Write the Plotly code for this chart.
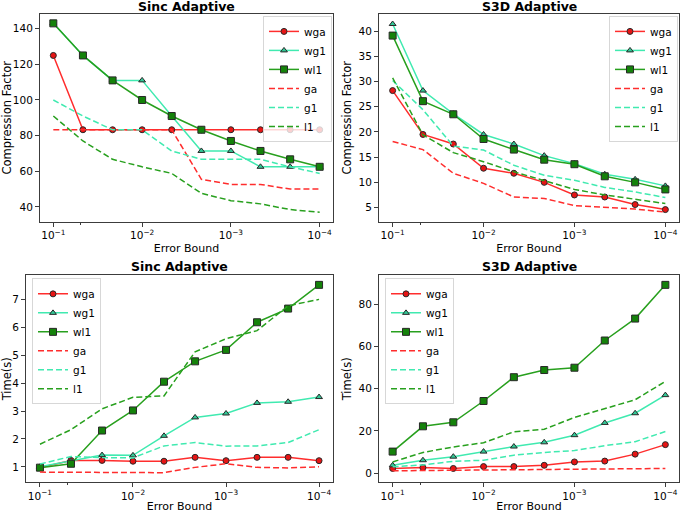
import plotly.graph_objects as go

# error bounds (x), 10 log-spaced points from 1e-1 to 1e-4
error_bound = [1e-1, 4.64e-2, 2.15e-2, 1e-2, 4.64e-3, 2.15e-3, 1e-3, 4.64e-4, 2.15e-4, 1e-4]
xtick_vals = [1e-1, 1e-2, 1e-3, 1e-4]
xtick_text = ["10<sup>\u22121</sup>", "10<sup>\u22122</sup>", "10<sup>\u22123</sup>", "10<sup>\u22124</sup>"]

# Sinc adaptive - compression factor
sinc_cf_wga = [125, 83.3, 83.3, 83.3, 83.3, 83.3, 83.3, 83.3, 83.3, 83.3]
sinc_cf_wg1 = [143, 125, 111, 111, 91, 71.4, 71.4, 62.5, 62.5, 62.5]
sinc_cf_wl1 = [143, 125, 111, 100, 91, 83.3, 77, 71.4, 66.7, 62.5]
sinc_cf_ga = [83.3, 83.3, 83.3, 83.3, 83.3, 55.5, 52.6, 52.6, 50, 50]
sinc_cf_g1 = [100, 91, 83.3, 83.3, 71.4, 66.7, 66.7, 66.7, 62.5, 58.8]
sinc_cf_l1 = [91, 77, 66.7, 62.5, 58.8, 47.6, 43.5, 41.7, 38.5, 37]

# S3D adaptive - compression factor
s3d_cf_wga = [28.2, 19.5, 17.6, 12.8, 11.8, 10.0, 7.5, 7.1, 5.6, 4.6]
s3d_cf_wg1 = [41.4, 28.2, 23.6, 19.5, 17.6, 15.3, 13.7, 11.6, 10.6, 9.3]
s3d_cf_wl1 = [39.1, 26.1, 23.5, 18.6, 16.5, 14.5, 13.6, 11.2, 10.0, 8.6]
s3d_cf_ga = [18.1, 16.5, 11.8, 9.8, 7.1, 6.8, 5.4, 5.0, 4.7, 4.1]
s3d_cf_g1 = [30.2, 24.4, 17.2, 16.4, 13.4, 11.4, 10.4, 9.0, 8.1, 7.0]
s3d_cf_l1 = [30.7, 19.4, 15.9, 14.1, 12.1, 10.3, 8.6, 7.5, 6.6, 5.8]

# Sinc adaptive - time(s)
sinc_t_wga = [0.97, 1.23, 1.23, 1.2, 1.2, 1.34, 1.22, 1.34, 1.34, 1.22]
sinc_t_wg1 = [1.0, 1.2, 1.42, 1.41, 2.11, 2.77, 2.91, 3.29, 3.33, 3.5]
sinc_t_wl1 = [0.97, 1.11, 2.3, 3.02, 4.05, 4.78, 5.19, 6.18, 6.67, 7.52]
sinc_t_ga = [0.81, 0.81, 0.81, 0.81, 0.79, 0.98, 1.11, 0.98, 0.96, 1.0]
sinc_t_g1 = [1.1, 1.37, 1.33, 1.32, 1.75, 1.87, 1.74, 1.75, 1.87, 2.33]
sinc_t_l1 = [1.81, 2.33, 3.08, 3.49, 3.54, 5.12, 5.59, 5.88, 6.77, 7.0]

# S3D adaptive - time(s)
s3d_t_wga = [2.2, 2.6, 2.2, 3.1, 3.1, 3.7, 5.3, 5.7, 9.0, 13.5]
s3d_t_wg1 = [3.7, 6.1, 7.8, 10.2, 12.6, 14.6, 18.0, 23.8, 28.4, 37.0]
s3d_t_wl1 = [10.2, 22.2, 24.1, 34.2, 45.5, 48.9, 50.0, 62.9, 73.3, 89.3]
s3d_t_ga = [1.1, 1.2, 1.3, 1.3, 1.5, 1.6, 1.8, 1.9, 2.0, 2.2]
s3d_t_g1 = [3.0, 3.9, 5.6, 6.1, 8.5, 9.8, 10.7, 13.0, 14.9, 19.7]
s3d_t_l1 = [5.3, 9.8, 12.4, 14.4, 19.6, 20.8, 26.4, 30.7, 34.8, 43.5]

red = "rgb(255,45,45)"
aqua = "rgb(64,234,176)"
green = "rgb(40,160,30)"

panels = [
    ("x", "y", "legend", [sinc_cf_wga, sinc_cf_wg1, sinc_cf_wl1, sinc_cf_ga, sinc_cf_g1, sinc_cf_l1]),
    ("x2", "y2", "legend2", [s3d_cf_wga, s3d_cf_wg1, s3d_cf_wl1, s3d_cf_ga, s3d_cf_g1, s3d_cf_l1]),
    ("x3", "y3", "legend3", [sinc_t_wga, sinc_t_wg1, sinc_t_wl1, sinc_t_ga, sinc_t_g1, sinc_t_l1]),
    ("x4", "y4", "legend4", [s3d_t_wga, s3d_t_wg1, s3d_t_wl1, s3d_t_ga, s3d_t_g1, s3d_t_l1]),
]

names = ["wga", "wg1", "wl1", "ga", "g1", "l1"]
styles = [
    dict(color=red, dash="solid", symbol="circle", fill="rgb(230,20,20)", size=6),
    dict(color=aqua, dash="solid", symbol="triangle-up", fill="rgb(50,200,150)", size=6),
    dict(color=green, dash="solid", symbol="square", fill="rgb(20,130,10)", size=7),
    dict(color=red, dash="6px,3px", symbol=None),
    dict(color=aqua, dash="6px,3px", symbol=None),
    dict(color=green, dash="6px,3px", symbol=None),
]

fig = go.Figure()
for xa, ya, lg, series in panels:
    for name, st, ys in zip(names, styles, series):
        if st["symbol"]:
            mode = "lines+markers"
            marker = dict(symbol=st["symbol"], size=st["size"], color=st["fill"],
                          line=dict(color="rgb(40,40,40)", width=1))
        else:
            mode = "lines"
            marker = None
        fig.add_trace(go.Scatter(
            x=error_bound, y=ys, name=name, mode=mode,
            line=dict(color=st["color"], width=1.5, dash=st["dash"]),
            marker=marker, xaxis=xa, yaxis=ya, legend=lg,
        ))

font = "DejaVu Sans"
axis_common = dict(
    showline=True, linecolor="rgb(60,60,60)", linewidth=1, mirror=True,
    ticks="outside", ticklen=4, tickcolor="rgb(60,60,60)",
    showgrid=False, zeroline=False,
    tickfont=dict(family=font, size=10.5, color="black"),
)
xaxis_common = dict(
    axis_common, type="log", range=[-0.85, -4.15],
    tickvals=xtick_vals, ticktext=xtick_text,
    minor=dict(ticks="outside", ticklen=2, tickcolor="rgb(60,60,60)", showgrid=False),
    title=dict(text="Error Bound", font=dict(family=font, size=11, color="black"), standoff=4),
)

def ytitle(t):
    return dict(text=t, font=dict(family=font, size=11.5, color="black"), standoff=4)

legend_common = dict(
    bgcolor="rgba(255,255,255,0.8)", bordercolor="rgb(215,215,215)", borderwidth=1,
    font=dict(family=font, size=10.5, color="black"), itemwidth=30,
    tracegroupgap=0,
)

fig.update_layout(
    width=685, height=513,
    margin=dict(l=0, r=0, t=0, b=0),
    plot_bgcolor="white", paper_bgcolor="white",
    xaxis=dict(xaxis_common, domain=[40 / 685, 333 / 685], anchor="y"),
    yaxis=dict(axis_common, domain=[1 - 223 / 513, 1 - 14 / 513], anchor="x",
               range=[31.7, 148.3], tickvals=[40, 60, 80, 100, 120, 140],
               title=ytitle("Compression Factor")),
    xaxis2=dict(xaxis_common, domain=[379 / 685, 679 / 685], anchor="y2"),
    yaxis2=dict(axis_common, domain=[1 - 223 / 513, 1 - 14 / 513], anchor="x2",
                range=[2.2, 43.4], tickvals=[5, 10, 15, 20, 25, 30, 35, 40],
                title=ytitle("Compression Factor")),
    xaxis3=dict(xaxis_common, domain=[26 / 685, 333 / 685], anchor="y3"),
    yaxis3=dict(axis_common, domain=[1 - 485 / 513, 1 - 277 / 513], anchor="x3",
                range=[0.45, 7.86], tickvals=[1, 2, 3, 4, 5, 6, 7],
                title=ytitle("Time(s)")),
    xaxis4=dict(xaxis_common, domain=[379 / 685, 679 / 685], anchor="y4"),
    yaxis4=dict(axis_common, domain=[1 - 485 / 513, 1 - 277 / 513], anchor="x4",
                range=[-4.3, 93.8], tickvals=[0, 20, 40, 60, 80],
                title=ytitle("Time(s)")),
    legend=dict(legend_common, x=332 / 685, y=1 - 16 / 513, xanchor="right", yanchor="top"),
    legend2=dict(legend_common, x=678 / 685, y=1 - 16 / 513, xanchor="right", yanchor="top"),
    legend3=dict(legend_common, x=32 / 685, y=1 - 280 / 513, xanchor="left", yanchor="top"),
    legend4=dict(legend_common, x=385 / 685, y=1 - 280 / 513, xanchor="left", yanchor="top"),
)

titles = [
    ("Sinc Adaptive", (40 + 333) / 2 / 685, 1 - 7 / 513),
    ("S3D Adaptive", (379 + 679) / 2 / 685, 1 - 7 / 513),
    ("Sinc Adaptive", (26 + 333) / 2 / 685, 1 - 268 / 513),
    ("S3D Adaptive", (379 + 679) / 2 / 685, 1 - 268 / 513),
]
for text, x, y in titles:
    fig.add_annotation(text="<b>%s</b>" % text, x=x, y=y, xref="paper", yref="paper",
                       showarrow=False, xanchor="center", yanchor="middle",
                       font=dict(family=font, size=12.5, color="black"))

# drop the page's default body margin so the figure sits at the window's corner
fig.write_html("out.html", config={"displayModeBar": False},
               post_script="document.body.style.margin='0px';")
